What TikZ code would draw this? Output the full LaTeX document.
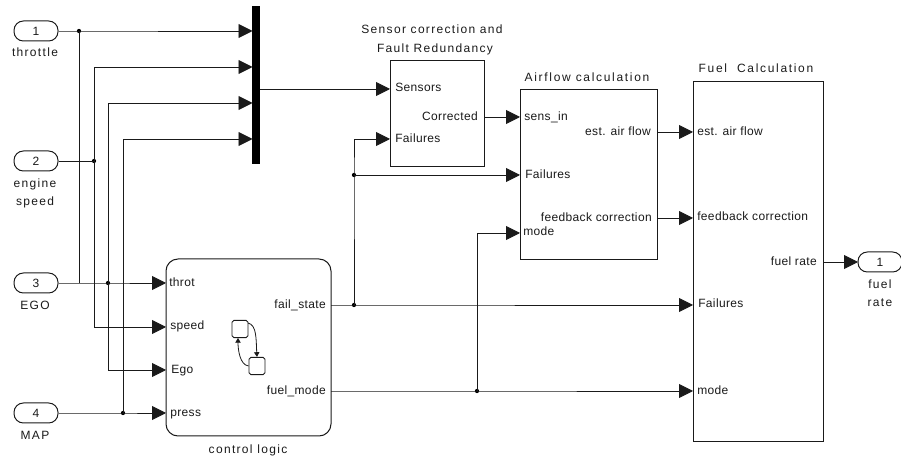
\documentclass[tikz,border=0pt]{standalone}
\usepackage{fontspec}
\setmainfont{Liberation Sans}
\newfontfamily\inlabel[LetterSpace=3]{Liberation Sans}
\newfontfamily\outlabel[LetterSpace=11]{Liberation Sans}
\newfontfamily\widelabel[LetterSpace=14]{Liberation Sans}
\usetikzlibrary{arrows.meta}
\definecolor{ink}{HTML}{1A1A1A}
\tikzset{
  x=0.75pt,y=-0.75pt,
  wire/.style={line width=0.7pt,draw=ink,line join=miter},
  sig/.style={wire,-{Triangle[length=10.5pt,width=10.5pt,sep=0pt]}},
  blk/.style={draw=ink,line width=0.75pt,rectangle,inner sep=0pt,fill=white},
  port/.style={draw=ink,line width=0.75pt,rectangle,rounded corners=7pt,minimum width=33pt,minimum height=15pt,inner sep=0pt,fill=white,font=\outlabel\fontsize{9}{10}\selectfont,text=ink},
  jn/.style={circle,fill=black,inner sep=0pt,minimum size=3.2pt},
  captext/.style={inner sep=0pt,text=ink,font=\outlabel\fontsize{9}{10}\selectfont,text height=7pt,text depth=2pt},
  widecap/.style={captext,font=\widelabel\fontsize{9}{10}\selectfont},
  pl/.style={inner sep=0pt,text=ink,font=\inlabel\fontsize{9}{10}\selectfont,text height=7pt,text depth=2pt,anchor=west},
  pr/.style={inner sep=0pt,text=ink,font=\inlabel\fontsize{9}{10}\selectfont,text height=7pt,text depth=2pt,anchor=east},
  mini/.style={draw=ink,line width=0.7pt,rectangle,rounded corners=1.4pt,inner sep=0pt,minimum width=12pt,minimum height=13pt},
  minilink/.style={draw=ink,line width=0.6pt,-{Triangle[length=3.5pt,width=4pt]}}
}
\begin{document}
\begin{tikzpicture}
\useasboundingbox (0,0) rectangle (901,459);
% blocks
\node[blk,minimum width=70.5pt,minimum height=79.5pt] (sensor) at (437,114) {};
\node[blk,minimum width=102.75pt,minimum height=127.5pt] (air) at (588.5,175) {};
\node[blk,minimum width=97.5pt,minimum height=270pt] (fuel) at (758,262) {};
\node[blk,rounded corners=9pt,minimum width=123.75pt,minimum height=132.75pt] (chart) at (248.5,347.5) {};
\node[fill=black,inner sep=0pt,minimum width=6pt,minimum height=118.5pt] (mux) at (256,85) {};
% ports
\node[port] (in1) at (36,31) {1};
\node[port] (in2) at (36,161) {2};
\node[port] (in3) at (36,283) {3};
\node[port] (in4) at (36,413) {4};
\node[port] (out1) at (880,262) {1};
% port captions
\node[captext] (c1) at (35,53) {throttle};
\node[captext] (c2a) at (35,184) {engine};
\node[captext] (c2b) at (35,202) {speed};
\node[captext] (c3) at (35,306) {EGO};
\node[captext] (c4) at (35,436) {MAP};
\node[captext] (c5a) at (880,285) {fuel};
\node[captext] (c5b) at (880,303) {rate};
\node[captext] (t1) at (248,450) {control logic};
\node[captext] (t2a) at (432,30) {Sensor correction and};
\node[captext] (t2b) at (435,49) {Fault Redundancy};
\node[widecap] (t3) at (587,78) {Airflow calculation};
\node[widecap] (t4) at (756,69) {Fuel\ \ Calculation};
% block port labels
\node[pl] (throt) at (169,283) {throt};
\node[pl] (speed) at (170,326) {speed};
\node[pl] (ego) at (171,370) {Ego};
\node[pl] (press) at (170,413) {press};
\node[pr] (fail) at (326,305) {fail\_state};
\node[pr] (fmode) at (326,391) {fuel\_mode};
\node[pl] (sSens) at (395,88) {Sensors};
\node[pr] (sCorr) at (478,117) {Corrected};
\node[pl] (sFail) at (395,139) {Failures};
\node[pl] (aSens) at (524,117) {sens\_in};
\node[pl] (aFail) at (525,175) {Failures};
\node[pl] (aMode) at (523,232) {mode};
\node[pr] (aEst) at (651,132) {est. air flow};
\node[pr] (aFb) at (652,218) {feedback correction};
\node[pl] (fEst) at (697,132) {est. air flow};
\node[pl] (fFb) at (697,217) {feedback correction};
\node[pl] (fFail) at (698,304) {Failures};
\node[pl] (fMode) at (697,391) {mode};
\node[pr] (fRate) at (817,262) {fuel rate};
% connection points
\coordinate (m1) at (252.5,31);
\coordinate (m2) at (252.5,67);
\coordinate (m3) at (252.5,103);
\coordinate (m4) at (252.5,139);
\coordinate (mo) at (260,89);
\coordinate (v2t) at (94,67);
\coordinate (v3t) at (108,103);
\coordinate (v4t) at (123,139);
\coordinate (v2b) at (94,327);
\coordinate (v3b) at (108,370);
\coordinate (v1b) at (79,283);
\coordinate (cs) at (166,327);
\coordinate (ce) at (166,370);
\coordinate (ct) at (166,283);
\coordinate (cp) at (166,413);
\coordinate (cf) at (331,305);
\coordinate (cm) at (331,391);
\coordinate (sI) at (390,89);
\coordinate (sF) at (390,139);
\coordinate (sO) at (484,117);
\coordinate (aI) at (520,117);
\coordinate (aF) at (520,175);
\coordinate (aM) at (520,233);
\coordinate (aE) at (657,132);
\coordinate (aB) at (657,218);
\coordinate (fE) at (693,132);
\coordinate (fB) at (693,218);
\coordinate (fF) at (693,305);
\coordinate (fM) at (693,391);
\coordinate (fR) at (823,262);
\coordinate (oI) at (858,262);
\coordinate (saOut) at (248,323);
% junctions
\node[jn] (j1) at (79,31) {};
\node[jn] (j2) at (94,161) {};
\node[jn] (j3) at (108,283) {};
\node[jn] (j4) at (123,413) {};
\node[jn] (j5) at (354,305) {};
\node[jn] (j6) at (354,175) {};
\node[jn] (j7) at (477,391) {};
\coordinate (j5t) at (354,139);
\coordinate (j7t) at (477,233);
% connectors
\draw[sig] (in1) -- (j1.center) -- (m1);
\draw[wire] (j1.center) -- (v1b);
\draw[wire] (in2) -- (j2.center);
\draw[sig] (j2.center) -- (v2t) -- (m2);
\draw[sig] (j2.center) -- (v2b) -- (cs);
\draw[sig] (in3) -- (j3.center) -- (ct);
\draw[sig] (j3.center) -- (v3t) -- (m3);
\draw[sig] (j3.center) -- (v3b) -- (ce);
\draw[sig] (in4) -- (j4.center) -- (cp);
\draw[sig] (j4.center) -- (v4t) -- (m4);
\draw[sig] (mo) -- (sI);
\draw[sig] (sO) -- (aI);
\draw[sig] (cf) -- (j5.center) -- (fF);
\draw[sig] (j5.center) -- (j6.center) -- (j5t) -- (sF);
\draw[sig] (j6.center) -- (aF);
\draw[sig] (cm) -- (j7.center) -- (fM);
\draw[sig] (j7.center) -- (j7t) -- (aM);
\draw[sig] (aE) -- (fE);
\draw[sig] (aB) -- (fB);
\draw[sig] (fR) -- (oI);
% chart icon
\node[mini] (sa) at (240,329) {};
\node[mini] (sb) at (257,366) {};
\draw[minilink] (saOut) .. controls (257,325) and (256,340) .. (sb.north);
\draw[minilink] (sb.west) .. controls (240,365) and (238,350) .. (238,338);
\end{tikzpicture}
\end{document}
